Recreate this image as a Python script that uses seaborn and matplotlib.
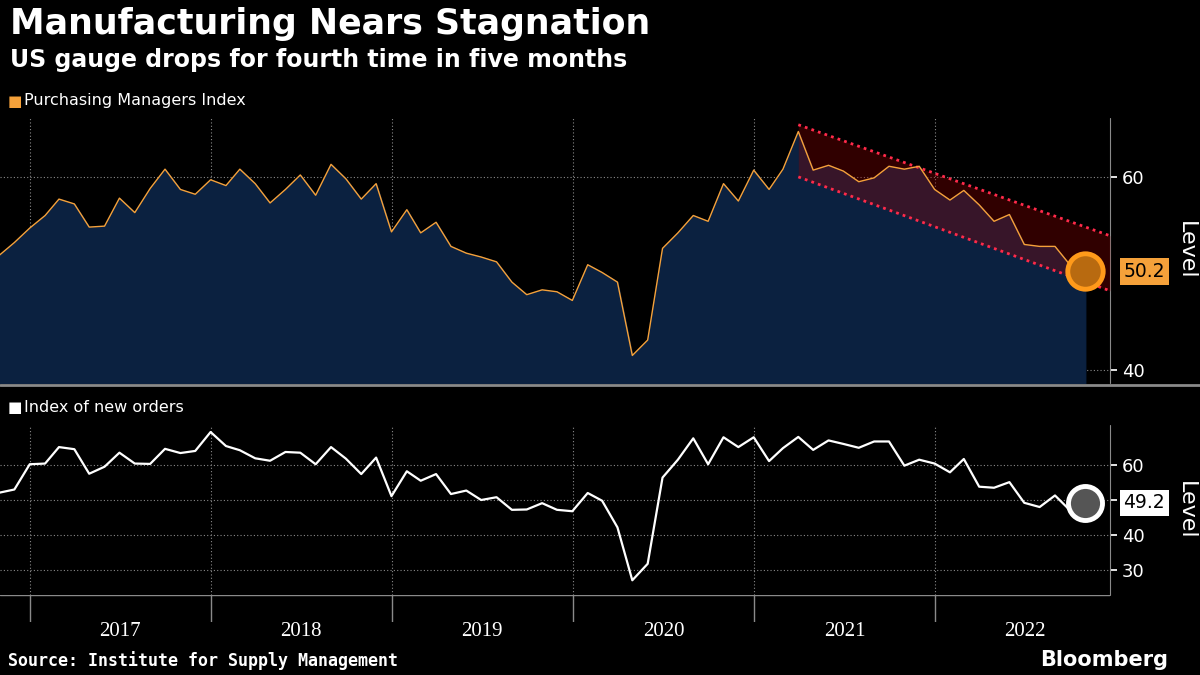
import pandas as pd
import numpy as np
import matplotlib
matplotlib.use("Agg")
import matplotlib.pyplot as plt
import matplotlib.transforms as mtransforms
import seaborn as sns

# Data (monthly, Oct 2016 - Oct 2022)
pmi = [51.9, 53.2, 54.7, 56.0, 57.7, 57.2, 54.8, 54.9, 57.8, 56.3, 58.8, 60.8, 58.7,
       58.2, 59.7, 59.1, 60.8, 59.3, 57.3, 58.7, 60.2, 58.1, 61.3, 59.8, 57.7,
       59.3, 54.3, 56.6, 54.2, 55.3, 52.8, 52.1, 51.7, 51.2, 49.1, 47.8, 48.3,
       48.1, 47.2, 50.9, 50.1, 49.1, 41.5, 43.1, 52.6, 54.2, 56.0, 55.4, 59.3,
       57.5, 60.7, 58.7, 60.8, 64.7, 60.7, 61.2, 60.6, 59.5, 59.9, 61.1, 60.8,
       61.1, 58.7, 57.6, 58.6, 57.1, 55.4, 56.1, 53.0, 52.8, 52.8, 50.9, 50.2]
new_orders = [52.1, 53.0, 60.2, 60.4, 65.1, 64.5, 57.5, 59.5, 63.5, 60.4, 60.3, 64.6, 63.4,
              64.0, 69.4, 65.4, 64.2, 61.9, 61.2, 63.7, 63.5, 60.2, 65.1, 61.8, 57.4,
              62.1, 51.1, 58.2, 55.5, 57.4, 51.7, 52.7, 50.0, 50.8, 47.2, 47.3, 49.1,
              47.2, 46.8, 52.0, 49.8, 42.2, 27.1, 31.8, 56.4, 61.5, 67.6, 60.2, 67.9,
              65.1, 67.9, 61.1, 64.8, 68.0, 64.3, 67.0, 66.0, 64.9, 66.7, 66.7, 59.8,
              61.5, 60.4, 57.9, 61.7, 53.8, 53.5, 55.1, 49.2, 48.0, 51.3, 47.1, 49.2]
dates = pd.date_range("2016-10-01", periods=len(pmi), freq="MS") + pd.offsets.MonthEnd(0)
df = pd.DataFrame({"date": dates, "pmi": pmi, "orders": new_orders})

# trend channel (start/end dates and levels)
chan_dates = pd.to_datetime(["2021-03-31", "2022-12-20"])
chan_upper = [65.4, 53.9]
chan_lower = [60.0, 48.2]
years = [2017, 2018, 2019, 2020, 2021, 2022]

sns.set_theme(style="dark")
plt.rcParams['font.family'] = ['DejaVu Sans']
W, H = 1200, 675
fig = plt.figure(figsize=(12, 6.75), dpi=100, facecolor="black")

def box(x0, y0, x1, y1):
    return [x0 / W, 1 - y1 / H, (x1 - x0) / W, (y1 - y0) / H]

xlim = (pd.Timestamp("2016-11-01"), pd.Timestamp("2022-12-20"))
grid_kw = dict(color="#8a8a8a", linestyle=(0, (1, 2)), linewidth=0.8)

def style_axis(ax, yticks, labels):
    ax.set_facecolor("black")
    ax.set_xlim(xlim)
    for s in ax.spines.values():
        s.set_visible(False)
    ax.yaxis.tick_right()
    ax.set_yticks(yticks)
    ax.set_yticklabels(labels)
    ax.tick_params(axis="y", colors="white", labelsize=13, length=5, direction="out")
    for y in yticks:
        ax.axhline(y, **grid_kw, zorder=0)
    for yr in years:
        ax.axvline(pd.Timestamp(f"{yr}-01-01"), **grid_kw, zorder=0)
    ax.set_xticks([])
    ax.plot([1.0, 1.0], [0, 1], transform=ax.transAxes, color="#8a8a8a", lw=0.8, clip_on=False)

def level_label(ax):
    ax.set_xlabel("")
    ax.set_ylabel("")
    ax.text(1186 / W, 0.5, "Level", transform=mtransforms.blended_transform_factory(fig.transFigure, ax.transAxes),
            color="white", fontsize=16, rotation=270, ha="center", va="center")

# Top panel: PMI
ax1 = fig.add_axes(box(0, 118, 1110, 383))
ax1.set_ylim(38.65, 66.1)
style_axis(ax1, [40, 60], ["40", "60"])
ax1.fill_between(df["date"], 0, df["pmi"], color="#0b2140", zorder=1)
ax1.fill_between(chan_dates, chan_lower, chan_upper, color="#8b0000", alpha=0.35, zorder=2, lw=0)
ax1.plot(chan_dates, chan_upper, color="#ff2a4a", ls=(0, (1, 1.5)), lw=2, zorder=3)
ax1.plot(chan_dates, chan_lower, color="#ff2a4a", ls=(0, (1, 1.5)), lw=2, zorder=3)
sns.lineplot(data=df, x="date", y="pmi", color="#f5a13a", lw=1, ax=ax1, zorder=4)
ax1.scatter(df["date"].iloc[-1], pmi[-1], s=650, facecolor="#b86a10", edgecolor="#ff9a1a",
            linewidth=3.5, zorder=5)
ax1.text(1.012, (pmi[-1] - 38.65) / (66.1 - 38.65), f"{pmi[-1]}", transform=ax1.transAxes,
         fontsize=13.5, color="black", va="center", ha="left",
         bbox=dict(boxstyle="square,pad=0.2", fc="#f5a13a", ec="none"))
level_label(ax1)

# Bottom panel: new orders (50 label hidden behind the value box)
ax2 = fig.add_axes(box(0, 425, 1110, 595))
ax2.set_ylim(22.9, 71.4)
style_axis(ax2, [30, 40, 50, 60], ["30", "40", "", "60"])
sns.lineplot(data=df, x="date", y="orders", color="white", lw=1.6, ax=ax2, zorder=4)
ax2.scatter(df["date"].iloc[-1], new_orders[-1], s=600, facecolor="#555555", edgecolor="white",
            linewidth=3.5, zorder=5)
ax2.text(1.012, (new_orders[-1] - 22.9) / (71.4 - 22.9), f"{new_orders[-1]}", transform=ax2.transAxes,
         fontsize=13.5, color="black", va="center", ha="left",
         bbox=dict(boxstyle="square,pad=0.2", fc="white", ec="none"))
level_label(ax2)

# Year axis below
ax3 = fig.add_axes(box(0, 595, 1110, 622))
ax3.set_facecolor("black")
ax3.set_xlim(xlim)
ax3.set_ylim(0, 1)
ax3.set_yticks([])
for s in ax3.spines.values():
    s.set_visible(False)
ax3.plot([0, 1], [1, 1], transform=ax3.transAxes, color="#8a8a8a", lw=1)
ax3.set_xticks([])
for y in years:
    ax3.axvline(pd.Timestamp(f"{y}-01-01"), color="#8a8a8a", lw=1)
    ax3.text(pd.Timestamp(f"{y}-07-02"), -0.35, str(y), color="white", fontsize=15,
             ha="center", va="center", family=["Liberation Serif", "DejaVu Serif"])

# separator between panels
fig.add_artist(plt.Line2D([0, 1], [1 - 385 / H] * 2, color="#8a8a8a", lw=2))

# Titles and legends
fig.text(10 / W, 1 - 24 / H, "Manufacturing Nears Stagnation", color="white", fontsize=25,
         fontweight="bold", va="center")
fig.text(10 / W, 1 - 60 / H, "US gauge drops for fourth time in five months", color="white",
         fontsize=17, fontweight="bold", va="center")
fig.text(8 / W, 1 - 101 / H, "\u25a0", color="#f5a13a", fontsize=11, va="center")
fig.text(24 / W, 1 - 101 / H, "Purchasing Managers Index", color="white", fontsize=11.5, va="center")
fig.text(8 / W, 1 - 408 / H, "\u25a0", color="white", fontsize=11, va="center")
fig.text(24 / W, 1 - 408 / H, "Index of new orders", color="white", fontsize=11.5, va="center")
fig.text(8 / W, 1 - 661 / H, "Source: Institute for Supply Management", color="white",
         fontsize=12, fontweight="bold", va="center", family=["DejaVu Sans Mono"])
fig.text(1168 / W, 1 - 660 / H, "Bloomberg", color="white", fontsize=15, fontweight="bold",
         va="center", ha="right")

fig.savefig("out.png", dpi=100, facecolor="black")
